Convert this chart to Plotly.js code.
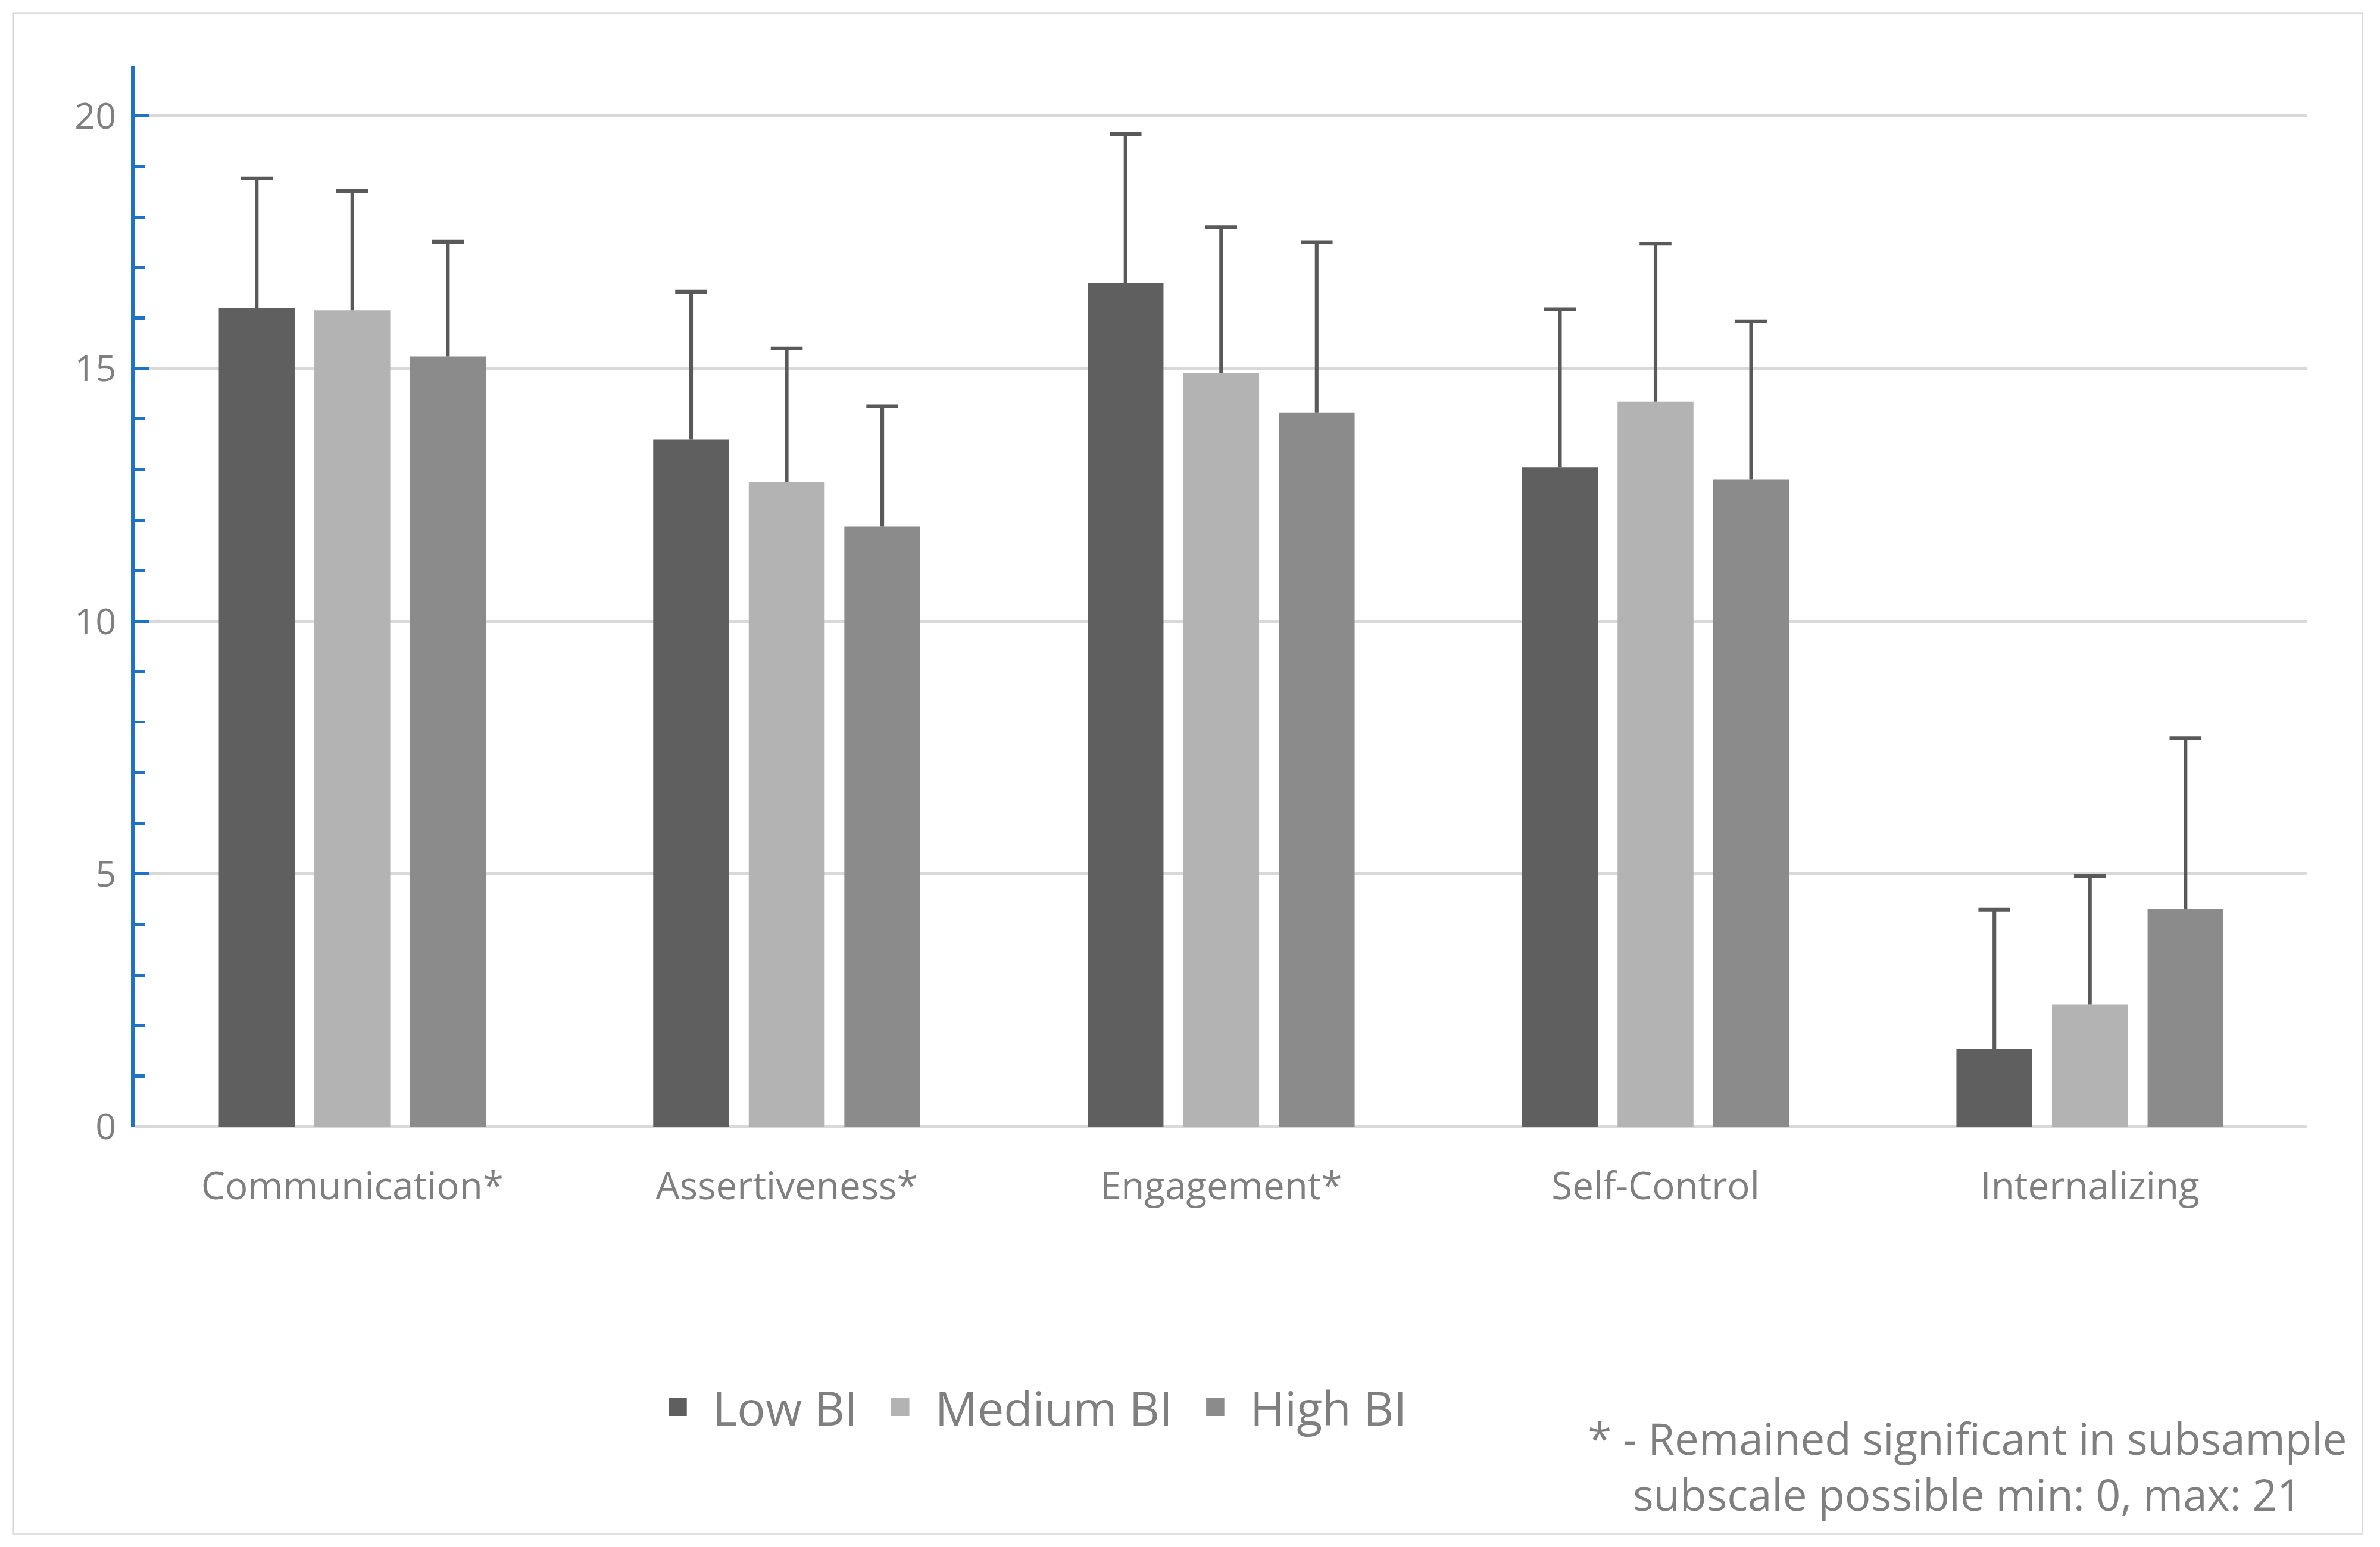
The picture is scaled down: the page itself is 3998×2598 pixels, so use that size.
<!DOCTYPE html>
<html>
<head>
<meta charset="utf-8">
<script src="https://cdn.plot.ly/plotly-3.0.1.min.js"></script>
<style>
  html, body { margin: 0; padding: 0; background: #ffffff; overflow: hidden; }
  #stage { position: absolute; left: 0; top: 0; width: 1568px; height: 1019px; transform-origin: 0 0; }
  #frame { position: absolute; left: 8px; top: 8px; width: 1547px; height: 1001px; border: 1.6px solid #d9d9d9; pointer-events: none; }
  #chart { position: absolute; left: 0; top: 0; width: 1568px; height: 1019px; }
</style>
</head>
<body>
<div id="stage">
  <div id="chart"></div>
  <div id="frame"></div>
</div>
<script>
// ---- data ----
const categories = ['Communication*', 'Assertiveness*', 'Engagement*', 'Self-Control', 'Internalizing'];
const seriesNames = ['Low BI', 'Medium BI', 'High BI'];
const lowBI    = [16.20, 13.59, 16.69, 13.04, 1.53];
const mediumBI = [16.15, 12.76, 14.91, 14.34, 2.42];
const highBI   = [15.24, 11.87, 14.13, 12.80, 4.31];
const lowSD    = [2.56, 2.93, 2.95, 3.13, 2.76];
const mediumSD = [2.36, 2.64, 2.89, 3.13, 2.54];
const highSD   = [2.27, 2.38, 3.37, 3.13, 3.38];
const yTickVals = [0, 5, 10, 15, 20];
const noteLines = ['* - Remained significant in subsample', 'subscale possible min: 0, max: 21'];

// ---- styling ----
const colors = ['#5f5f5f', '#b3b3b3', '#8b8b8b'];
const errColor = '#595959';
const textColor = '#7f7f7f';
const font = 'Open Sans, Noto Sans, DejaVu Sans, sans-serif';
const GAP = 0.34;

const values = [lowBI, mediumBI, highBI];
const sds = [lowSD, mediumSD, highSD];

const barTraces = seriesNames.map((name, i) => ({
  type: 'bar',
  name: name,
  x: categories,
  y: values[i],
  offsetgroup: 'g' + i,
  marker: { color: colors[i], line: { width: 0 } },
  hoverinfo: 'skip'
}));

// positive-only error bars (Excel style): cap marker at mean+SD, stem down to the mean
const errTraces = seriesNames.map((name, i) => ({
  type: 'scatter',
  mode: 'markers',
  name: name + ' SD',
  showlegend: false,
  x: categories,
  y: values[i].map((v, k) => v + sds[i][k]),
  offsetgroup: 'g' + i,
  marker: { symbol: 'line-ew', size: 15, color: errColor, line: { color: errColor, width: 2.4 } },
  error_y: {
    type: 'data',
    symmetric: false,
    array: sds[i].map(() => 0),
    arrayminus: sds[i],
    color: errColor,
    thickness: 2.4,
    width: 0
  },
  cliponaxis: false,
  hoverinfo: 'skip'
}));

const layout = {
  width: 1568,
  height: 1019,
  margin: { l: 89, r: 48, t: 43, b: 277, pad: 0 },
  paper_bgcolor: '#ffffff',
  plot_bgcolor: '#ffffff',
  font: { family: font, color: textColor, size: 24 },
  barmode: 'group',
  bargap: GAP,
  bargroupgap: 0.206,
  scattermode: 'group',
  scattergap: GAP,
  showlegend: true,
  legend: {
    orientation: 'h',
    x: 0.4116, xanchor: 'center',
    y: -0.2647, yanchor: 'middle',
    font: { family: font, size: 31, color: textColor },
    bgcolor: 'rgba(0,0,0,0)',
    traceorder: 'normal',
    itemwidth: 36
  },
  xaxis: {
    type: 'category',
    showline: false,
    ticks: '',
    showgrid: false,
    zeroline: false,
    tickfont: { family: font, size: 25, color: textColor },
    ticklabelstandoff: 22
  },
  yaxis: {
    range: [0, 21],
    tickvals: yTickVals,
    showline: true,
    linecolor: '#1e73c6',
    linewidth: 2.6,
    ticks: 'inside',
    ticklen: 9,
    tickwidth: 2,
    tickcolor: '#1e73c6',
    minor: { ticks: 'inside', dtick: 1, tick0: 0, ticklen: 6.5, tickwidth: 2, tickcolor: '#1e73c6', showgrid: false },
    showgrid: true,
    gridcolor: '#d9d9d9',
    gridwidth: 2,
    zeroline: true,
    zerolinecolor: '#d9d9d9',
    zerolinewidth: 2,
    tickfont: { family: font, size: 24, color: textColor },
    ticklabelstandoff: 5
  },
  annotations: [{
    xref: 'paper', yref: 'paper',
    x: 0.8435, y: -0.3197,
    xanchor: 'center', yanchor: 'middle',
    align: 'center',
    showarrow: false,
    text: noteLines.join('<br>'),
    font: { family: font, size: 28.5, color: textColor }
  }]
};

document.getElementById('stage').style.transform = 'scale(' + (3998 / 1568) + ')';

Plotly.newPlot('chart', barTraces.concat(errTraces), layout, { displayModeBar: false, staticPlot: true });
</script>
</body>
</html>
